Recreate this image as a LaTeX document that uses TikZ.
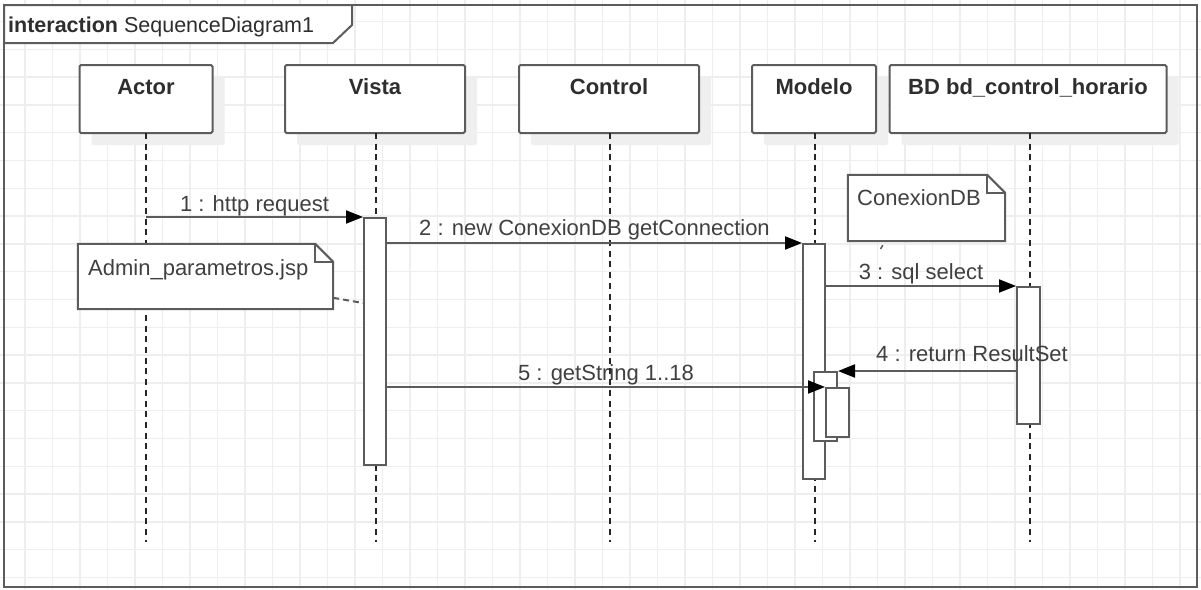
\documentclass[tikz,border=0pt]{standalone}
\usepackage{fontspec}
\setmainfont{Liberation Sans}
\usetikzlibrary{arrows.meta,calc}
\definecolor{lc}{HTML}{5C5C5C}
\definecolor{gridc}{HTML}{EEEEEE}
\definecolor{shadowc}{HTML}{EFEFEF}
\definecolor{txtc}{HTML}{404040}
\definecolor{hdrc}{HTML}{2E2E2E}
\begin{document}
\begin{tikzpicture}[x=1pt,y=-1pt,
  gridl/.style={draw=gridc, line width=1.5pt},
  frame/.style={draw=lc, line width=2pt},
  hdr/.style={draw=lc, line width=2pt, fill=white, rounded corners=1.5pt, inner sep=0pt,
    preaction={fill=shadowc, draw=none, transform canvas={shift={(12,12)}}}},
  hdrtxt/.style={anchor=base, inner sep=0pt, text=hdrc, font=\fontsize{22pt}{26pt}\selectfont\bfseries},
  lifeline/.style={draw=black!85, line width=2pt, dash pattern=on 6pt off 4.7pt},
  act/.style={draw=lc, fill=white, line width=2pt, inner sep=0pt, minimum width=23pt},
  msg/.style={draw=lc, line width=2pt, -{Triangle[length=17pt,width=13pt,color=black,fill=black]}},
  lbl/.style={anchor=base, inner sep=0pt, text=txtc, font=\fontsize{22pt}{26pt}\selectfont},
  notebox/.style={draw=lc, fill=white, line width=2pt},
  notelink/.style={draw=lc, line width=2pt, dash pattern=on 6pt off 4pt},
  blank/.style={inner sep=0pt, draw=none}
]
\useasboundingbox (0,0) rectangle (1201,589);
\fill[white] (0,0) rectangle (1201,589);
% grid
\foreach \i in {0,...,42} \draw[gridl] ({25+27.5*\i},0) -- ++(0,589);
\foreach \j in {0,...,21} \draw[gridl] (0,{21.5+27.8*\j}) -- ++(1201,0);

% frame
\draw[frame] (4,5) rectangle (1197,587);
\draw[frame, fill=white] (4,5) -- (352,5) -- (352,25) -- (333,43) -- (4,43) -- cycle;
\node[anchor=base west, inner sep=0pt, text=hdrc, font=\fontsize{21.5pt}{26pt}\selectfont] (title) at (8,32)
  {\textbf{interaction} SequenceDiagram1};

% lifeline heads
\node[hdr, minimum width=133pt, minimum height=68pt] (actor) at (146,99) {};
\node[hdr, minimum width=180pt, minimum height=68pt] (vista) at (375,99) {};
\node[hdr, minimum width=180pt, minimum height=68pt] (control) at (609,99) {};
\node[hdr, minimum width=124pt, minimum height=68pt] (modelo) at (814,99) {};
\node[hdr, minimum width=277pt, minimum height=68pt] (bd) at (1028,99) {};
\node[hdrtxt] (tactor) at ($(actor.north)+(0,30)$) {Actor};
\node[hdrtxt] (tvista) at ($(vista.north)+(0,30)$) {Vista};
\node[hdrtxt] (tcontrol) at ($(control.north)+(0,30)$) {Control};
\node[hdrtxt] (tmodelo) at ($(modelo.north)+(0,30)$) {Modelo};
\node[hdrtxt] (tbd) at ($(bd.north)+(0,30)$) {BD bd\_control\_horario};

% lifelines
\coordinate (eactor) at (146,542);
\coordinate (evista) at (376,542);
\coordinate (econtrol) at (610,542);
\coordinate (emodelo) at (815,542);
\coordinate (ebd) at (1030,542);
\draw[lifeline] (146,133) -- (eactor);
\draw[lifeline] (376,133) -- (evista);
\draw[lifeline] (610,133) -- (econtrol);
\draw[lifeline] (815,133) -- (emodelo);
\draw[lifeline] (1030,133) -- (ebd);

% notes
\node[blank, minimum width=255pt, minimum height=65pt] (adminnote) at (205.5,276.5) {};
\draw[notebox] (adminnote.north west) -- ($(adminnote.north east)+(-18,0)$) -- ($(adminnote.north east)+(0,18)$)
  -- (adminnote.south east) -- (adminnote.south west) -- cycle;
\draw[notebox, fill=none] ($(adminnote.north east)+(-18,0)$) -- ($(adminnote.north east)+(-18,18)$) -- ($(adminnote.north east)+(0,18)$);
\node[anchor=base west, inner sep=0pt, text=txtc, font=\fontsize{22pt}{26pt}\selectfont] (tadmin) at (88,275) {Admin\_parametros.jsp};

\node[blank, minimum width=157pt, minimum height=66pt] (conxnote) at (926.5,208) {};
\draw[notebox] (conxnote.north west) -- ($(conxnote.north east)+(-18,0)$) -- ($(conxnote.north east)+(0,18)$)
  -- (conxnote.south east) -- (conxnote.south west) -- cycle;
\draw[notebox, fill=none] ($(conxnote.north east)+(-18,0)$) -- ($(conxnote.north east)+(-18,18)$) -- ($(conxnote.north east)+(0,18)$);
\node[anchor=base west, inner sep=0pt, text=txtc, font=\fontsize{22pt}{26pt}\selectfont] (tconx) at (857,205) {ConexionDB};
\coordinate (conxtick) at (880.5,249);
\draw[draw=lc, line width=1.5pt] ($(conxnote.south west)+(35,4)$) -- (conxtick);

% activations
\node[act, minimum width=22pt, minimum height=247pt] (vact) at (375,341.5) {};
\node[act, minimum width=22pt, minimum height=235pt] (mact) at (814,361.5) {};
\node[act, minimum height=137pt] (bact) at (1028.5,355.5) {};
\node[act, minimum height=69pt] (n1) at (825.5,406.5) {};
\node[act, minimum height=49pt] (n2) at (837.5,412.5) {};

% note connector
\coordinate (adminlink) at ($(adminnote.north east)+(0,54)$);
\draw[notelink] (adminlink) -- ($(vact.north west)+(0,86)$);

% messages
\draw[msg] (actor.south |- vact.north) -- node[lbl, yshift=6pt] {1 : http request} (vact.north west);
\draw[msg] (vact.east |- mact.north) -- node[lbl, yshift=8pt] {2 : new ConexionDB getConnection} (mact.north west);
\draw[msg] (mact.east |- bact.north) -- node[lbl, yshift=7pt] {3 : sql select} (bact.north west);
\draw[msg] (bact.west |- n1.north) -- node[lbl, yshift=10pt, xshift=45pt] {4 : return ResultSet} (n1.north east);
\draw[msg] (vact.east |- n2.north) -- node[lbl, yshift=7pt] {5 : getString 1..18} (n2.north west);
\end{tikzpicture}
\end{document}
